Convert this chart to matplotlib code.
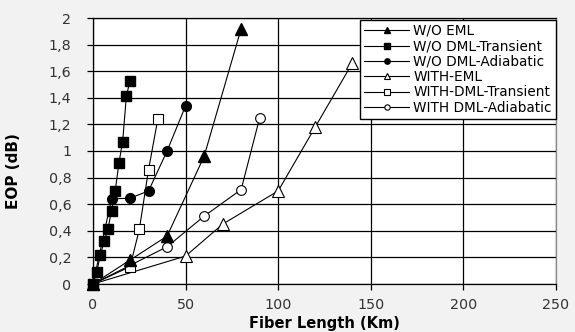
import matplotlib
matplotlib.use("Agg")
import matplotlib.pyplot as plt
from matplotlib.ticker import FuncFormatter

# ---- data ----
wo_eml_x = [0, 20, 40, 60, 80]
wo_eml_y = [0, 0.18, 0.36, 0.96, 1.92]

wo_dml_tr_x = [0, 2, 4, 6, 8, 10, 12, 14, 16, 18, 20]
wo_dml_tr_y = [0, 0.09, 0.22, 0.32, 0.41, 0.55, 0.70, 0.91, 1.07, 1.41, 1.53]

wo_dml_ad_x = [0, 10, 20, 30, 40, 50]
wo_dml_ad_y = [0, 0.64, 0.645, 0.70, 1.00, 1.34]

with_eml_x = [0, 50, 70, 100, 120, 140]
with_eml_y = [0, 0.21, 0.45, 0.70, 1.18, 1.66]

with_dml_tr_x = [0, 20, 25, 30, 35]
with_dml_tr_y = [0, 0.13, 0.41, 0.86, 1.24]

with_dml_ad_x = [0, 40, 60, 80, 90]
with_dml_ad_y = [0, 0.28, 0.51, 0.71, 1.25]

labels = ["W/O EML", "W/O DML-Transient", "W/O DML-Adiabatic",
          "WITH-EML", "WITH-DML-Transient", "WITH DML-Adiabatic"]

x_ticks = [0, 50, 100, 150, 200, 250]
y_ticks = [0, 0.2, 0.4, 0.6, 0.8, 1.0, 1.2, 1.4, 1.6, 1.8, 2.0]

# ---- figure ----
fig = plt.figure(figsize=(5.75, 3.32), dpi=100, facecolor="#f2f2f2")
ax = fig.add_axes([93/575, 1-284/332, (556-93)/575, (284-18)/332])
ax.set_facecolor("white")

lw = 0.8
filled = dict(color="black", lw=lw, zorder=6, clip_on=False)
hollow = dict(color="black", lw=lw, zorder=5, clip_on=False)
ax.plot(wo_eml_x, wo_eml_y, marker="^", ms=8, mfc="black", mec="black",
        label=labels[0], **filled)
ax.plot(wo_dml_tr_x, wo_dml_tr_y, marker="s", ms=7.5, mfc="black", mec="black",
        label=labels[1], **filled)
ax.plot(wo_dml_ad_x, wo_dml_ad_y, marker="o", ms=7, mfc="black", mec="black",
        label=labels[2], **filled)
ax.plot(with_eml_x, with_eml_y, marker="^", ms=8, mfc="white", mec="black",
        mew=0.8, label=labels[3], **hollow)
ax.plot(with_dml_tr_x, with_dml_tr_y, marker="s", ms=7.5, mfc="white", mec="black",
        mew=0.8, label=labels[4], **hollow)
ax.plot(with_dml_ad_x, with_dml_ad_y, marker="o", ms=7, mfc="white", mec="black",
        mew=0.8, label=labels[5], **hollow)

ax.set_xlim(0, 250)
ax.set_ylim(0, 2)
ax.set_xticks(x_ticks)
ax.set_yticks(y_ticks)
ax.xaxis.set_major_formatter(FuncFormatter(lambda v, p: f"{v:g}"))
ax.yaxis.set_major_formatter(FuncFormatter(lambda v, p: f"{v:g}".replace(".", ",")))
ax.grid(True, color="black", lw=0.9)
ax.set_axisbelow(True)
ax.tick_params(axis="both", direction="out", length=4.5, width=0.9,
               labelsize=10.3, labelcolor="#333333", color="black")
ax.tick_params(axis="y", pad=11)
ax.tick_params(axis="x", pad=5.5)
for tl in ax.get_xticklabels() + ax.get_yticklabels():
    tl.set_fontfamily("DejaVu Sans")

for s in ["left", "bottom", "top"]:
    ax.spines[s].set_color("black")
    ax.spines[s].set_linewidth(0.9)
ax.spines["right"].set_color("#888888")
ax.spines["right"].set_linewidth(0.9)

ax.set_xlabel("Fiber Length (Km)", fontsize=10.5, fontweight="bold",
              family="DejaVu Sans", va="bottom")
ax.xaxis.set_label_coords(0.5, -47/266)
ax.set_ylabel("EOP (dB)", fontsize=11, fontweight="bold", family="DejaVu Sans")
ax.yaxis.set_label_coords(-0.155, 0.425)

leg = ax.legend(loc="upper right", bbox_to_anchor=(1.0, 0.993), borderaxespad=0,
                fancybox=False, framealpha=1, edgecolor="black",
                prop={"family": "DejaVu Sans", "size": 9.8},
                markerscale=0.55, handlelength=3.3, labelspacing=0.1,
                handletextpad=0.3, borderpad=0.3)
leg.get_frame().set_linewidth(1.0)
leg.set_zorder(10)

fig.savefig("out.png", dpi=100, facecolor=fig.get_facecolor())
